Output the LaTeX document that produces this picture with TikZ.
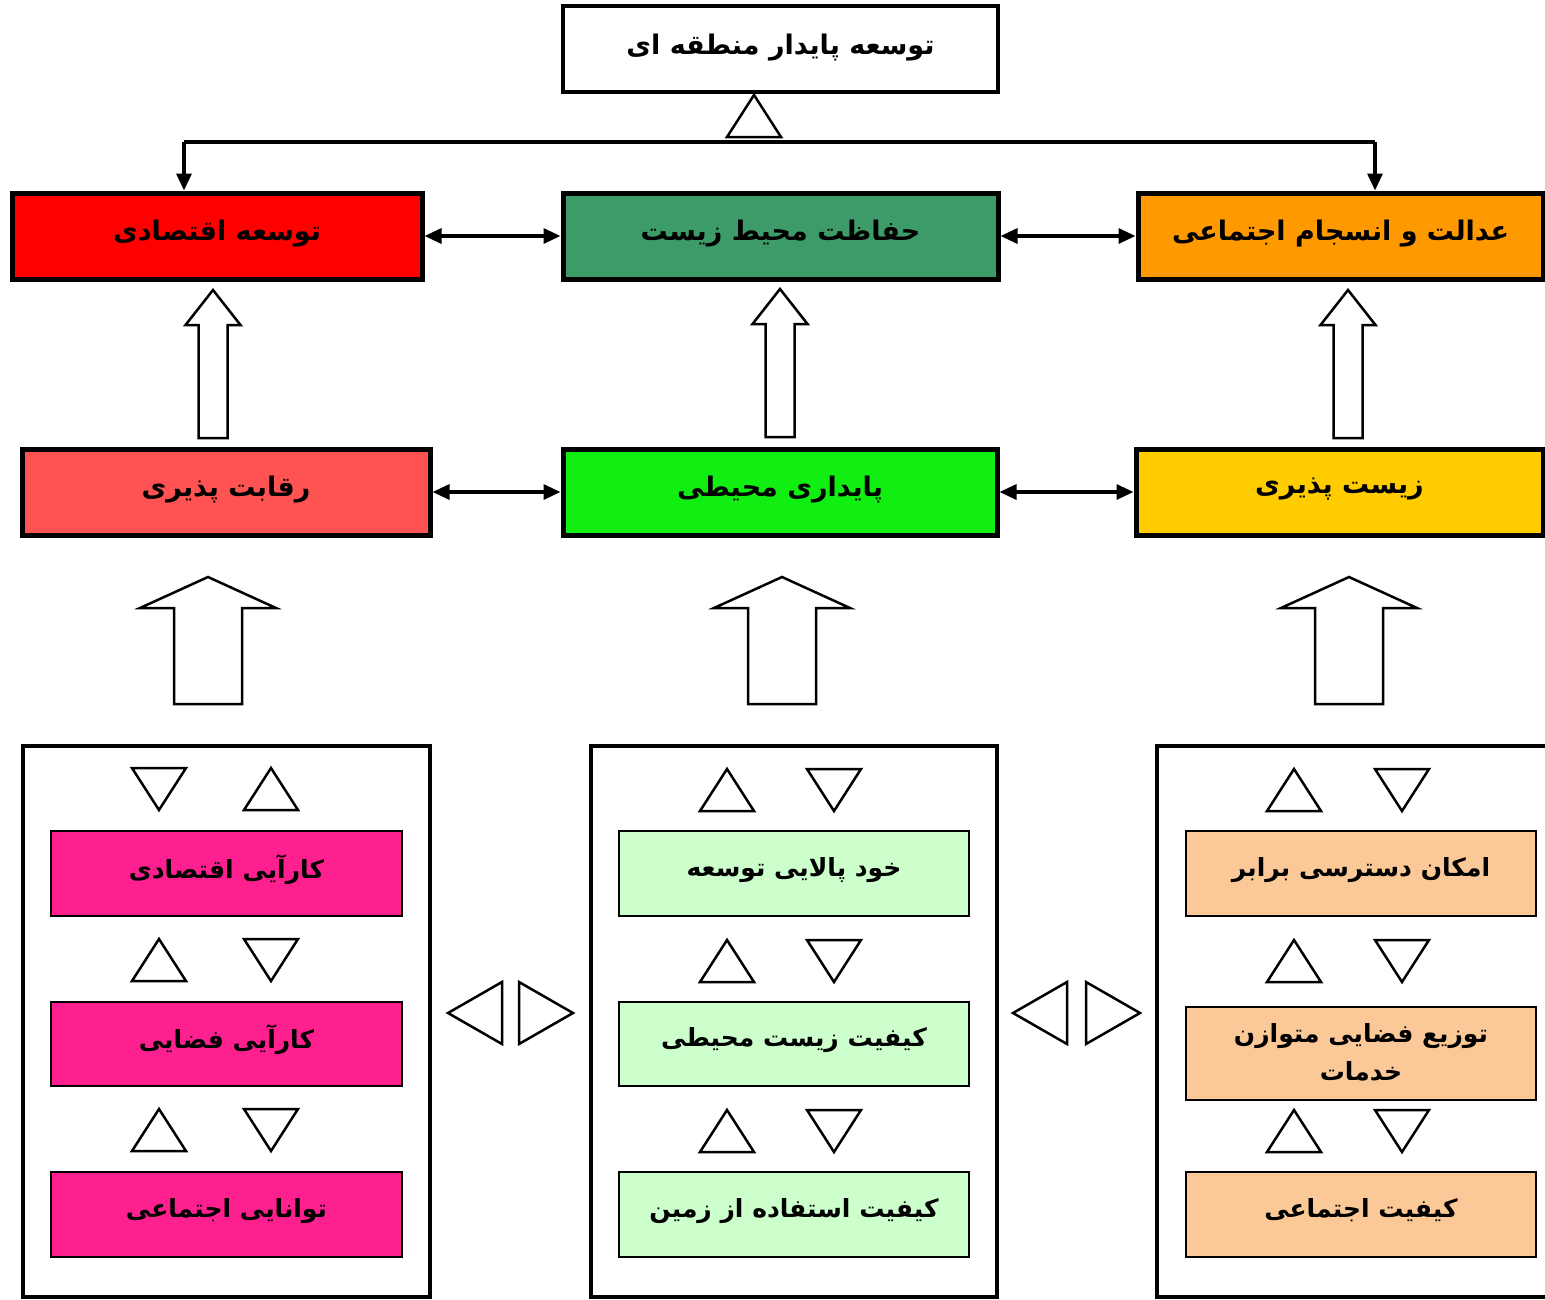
\documentclass[tikz,border=0pt]{standalone}
\usepackage{fontspec}
\newfontfamily\arabicfont[Script=Arabic]{DejaVu Sans}
\TeXXeTstate=1
\usetikzlibrary{arrows.meta,calc}
\definecolor{econred}{HTML}{FF0000}
\definecolor{envgreen}{HTML}{3C9B69}
\definecolor{justorange}{HTML}{FF9900}
\definecolor{compred}{HTML}{FF5252}
\definecolor{limegreen}{HTML}{11EE11}
\definecolor{livgold}{HTML}{FFCC00}
\definecolor{magbox}{HTML}{FF2090}
\definecolor{palegreen}{HTML}{CCFFCC}
\definecolor{peach}{HTML}{FBC997}
\newcommand{\fa}[1]{{\arabicfont\bfseries\beginR #1\endR}}
\tikzset{
  mainbox/.style={draw=black, line width=5pt, minimum height=86pt, font=\fontsize{27}{32}\selectfont, inner sep=0pt},
  colbox/.style={draw=black, line width=4pt, fill=white, inner sep=0pt},
  innerbox/.style={draw=black, line width=2.5pt, inner sep=0pt, font=\fontsize{25}{38}\selectfont, align=center},
  conn/.style={line width=3.2pt},
  arr/.style={conn, -{Triangle[length=17pt,width=15pt]}},
  darr/.style={conn, {Triangle[length=17pt,width=15pt]}-{Triangle[length=17pt,width=15pt]}},
  trishape/.style={draw=black, line width=2.5pt, fill=white, line join=miter},
  tup/.pic={\draw[trishape] (-27,21) -- (0,-21) -- (27,21) -- cycle;},
  tdown/.pic={\draw[trishape] (-27,-21) -- (27,-21) -- (0,21) -- cycle;},
  tleft/.pic={\draw[trishape] (27,-31) -- (27,31) -- (-27,0) -- cycle;},
  tright/.pic={\draw[trishape] (-27,-31) -- (-27,31) -- (27,0) -- cycle;},
  hollowsmall/.pic={\draw[trishape] (-14.5,0) -- (-14.5,-113) -- (-27.5,-113) -- (0,-148) -- (27.5,-113) -- (14.5,-113) -- (14.5,0) -- cycle;},
  hollowlarge/.pic={\draw[trishape] (-34,0) -- (-34,-96) -- (-68,-96) -- (0,-127) -- (68,-96) -- (34,-96) -- (34,0) -- cycle;}
}
\begin{document}
\begin{tikzpicture}[x=1pt,y=-1pt]
\useasboundingbox (0,0) rectangle (1545,1299);
\clip (0,0) rectangle (1545,1299);
\fill[white] (0,0) rectangle (1545,1299);

% top
\node[mainbox, line width=4.5pt, fill=white, minimum width=435pt] (top) at (780.5,49) {\raisebox{10pt}{\fa{توسعه پایدار منطقه ای}}};
\pic at (754,116) {tup};

% row 1
\node[mainbox, fill=econred, minimum width=410pt] (econ) at (217,236) {\raisebox{12pt}{\fa{توسعه اقتصادی}}};
\node[mainbox, fill=envgreen, minimum width=435pt] (env) at (780.5,236) {\raisebox{12pt}{\fa{حفاظت محیط زیست}}};
\node[mainbox, fill=justorange, minimum width=405pt] (just) at (1340.5,236) {\raisebox{12pt}{\fa{عدالت و انسجام اجتماعی}}};

\coordinate (jl) at (184,142);
\coordinate (jr) at (1375,142);
\draw[conn, line width=3.8pt] (jl) -- (jr);
\draw[arr] (jl) -- (jl |- econ.north);
\draw[arr] (jr) -- (jr |- just.north);
\draw[darr] (econ.east) -- (env.west);
\draw[darr] (env.east) -- (just.west);

% row 2
\node[mainbox, fill=compred, minimum width=408pt] (comp) at (226,492) {\raisebox{12pt}{\fa{رقابت پذیری}}};
\node[mainbox, fill=limegreen, minimum width=434pt] (sust) at (780,492) {\raisebox{12pt}{\fa{پایداری محیطی}}};
\node[mainbox, fill=livgold, minimum width=407pt] (liv) at (1339.5,492) {\raisebox{12pt}{\fa{زیست پذیری}}};
\draw[darr] (comp.east) -- (sust.west);
\draw[darr] (sust.east) -- (liv.west);

% hollow arrows between rows
\pic at (213,438) {hollowsmall};
\pic at (780,437) {hollowsmall};
\pic at (1348,438) {hollowsmall};

% large hollow arrows
\pic at (208,704) {hollowlarge};
\pic at (782,704) {hollowlarge};
\pic at (1349,704) {hollowlarge};

% columns
\node[colbox, minimum width=407pt, minimum height=551pt] (colL) at (226.5,1021.5) {};
\node[colbox, minimum width=406pt, minimum height=551pt] (colM) at (794,1021.5) {};
\node[colbox, minimum width=410pt, minimum height=551pt] (colR) at (1362,1021.5) {};

% left column
\node[innerbox, fill=magbox, minimum width=351pt, minimum height=85pt] (l1) at (226.5,873.5) {\raisebox{14pt}{\fa{کارآیی اقتصادی}}};
\node[innerbox, fill=magbox, minimum width=351pt, minimum height=84pt] (l2) at (226.5,1044) {\raisebox{14pt}{\fa{کارآیی فضایی}}};
\node[innerbox, fill=magbox, minimum width=351pt, minimum height=85pt] (l3) at (226.5,1214.5) {\raisebox{14pt}{\fa{توانایی اجتماعی}}};
\pic at (159,789) {tdown}; \pic at (271,789) {tup};
\pic at (159,960) {tup};   \pic at (271,960) {tdown};
\pic at (159,1130) {tup};  \pic at (271,1130) {tdown};

% middle column
\node[innerbox, fill=palegreen, minimum width=350pt, minimum height=85pt] (m1) at (794,873.5) {\raisebox{14pt}{\fa{خود پالایی توسعه}}};
\node[innerbox, fill=palegreen, minimum width=350pt, minimum height=84pt] (m2) at (794,1044) {\raisebox{14pt}{\fa{کیفیت زیست محیطی}}};
\node[innerbox, fill=palegreen, minimum width=350pt, minimum height=85pt] (m3) at (794,1214.5) {\raisebox{14pt}{\fa{کیفیت استفاده از زمین}}};
\pic at (727,790) {tup};  \pic at (834,790) {tdown};
\pic at (727,961) {tup};  \pic at (834,961) {tdown};
\pic at (727,1131) {tup}; \pic at (834,1131) {tdown};

% right column
\node[innerbox, fill=peach, minimum width=350pt, minimum height=85pt] (r1) at (1361,873.5) {\raisebox{14pt}{\fa{امکان دسترسی برابر}}};
\node[innerbox, fill=peach, minimum width=350pt, minimum height=93pt] (r2) at (1361,1053.5) {\raisebox{4pt}{\fa{توزیع فضایی متوازن}}\\\raisebox{4pt}{\fa{خدمات}}};
\node[innerbox, fill=peach, minimum width=350pt, minimum height=85pt] (r3) at (1361,1214.5) {\raisebox{14pt}{\fa{کیفیت اجتماعی}}};
\pic at (1294,790) {tup};  \pic at (1402,790) {tdown};
\pic at (1294,961) {tup};  \pic at (1402,961) {tdown};
\pic at (1294,1131) {tup}; \pic at (1402,1131) {tdown};

% side triangles
\pic at (475,1013) {tleft};  \pic at (546,1013) {tright};
\pic at (1040,1013) {tleft}; \pic at (1113,1013) {tright};
\end{tikzpicture}
\end{document}
